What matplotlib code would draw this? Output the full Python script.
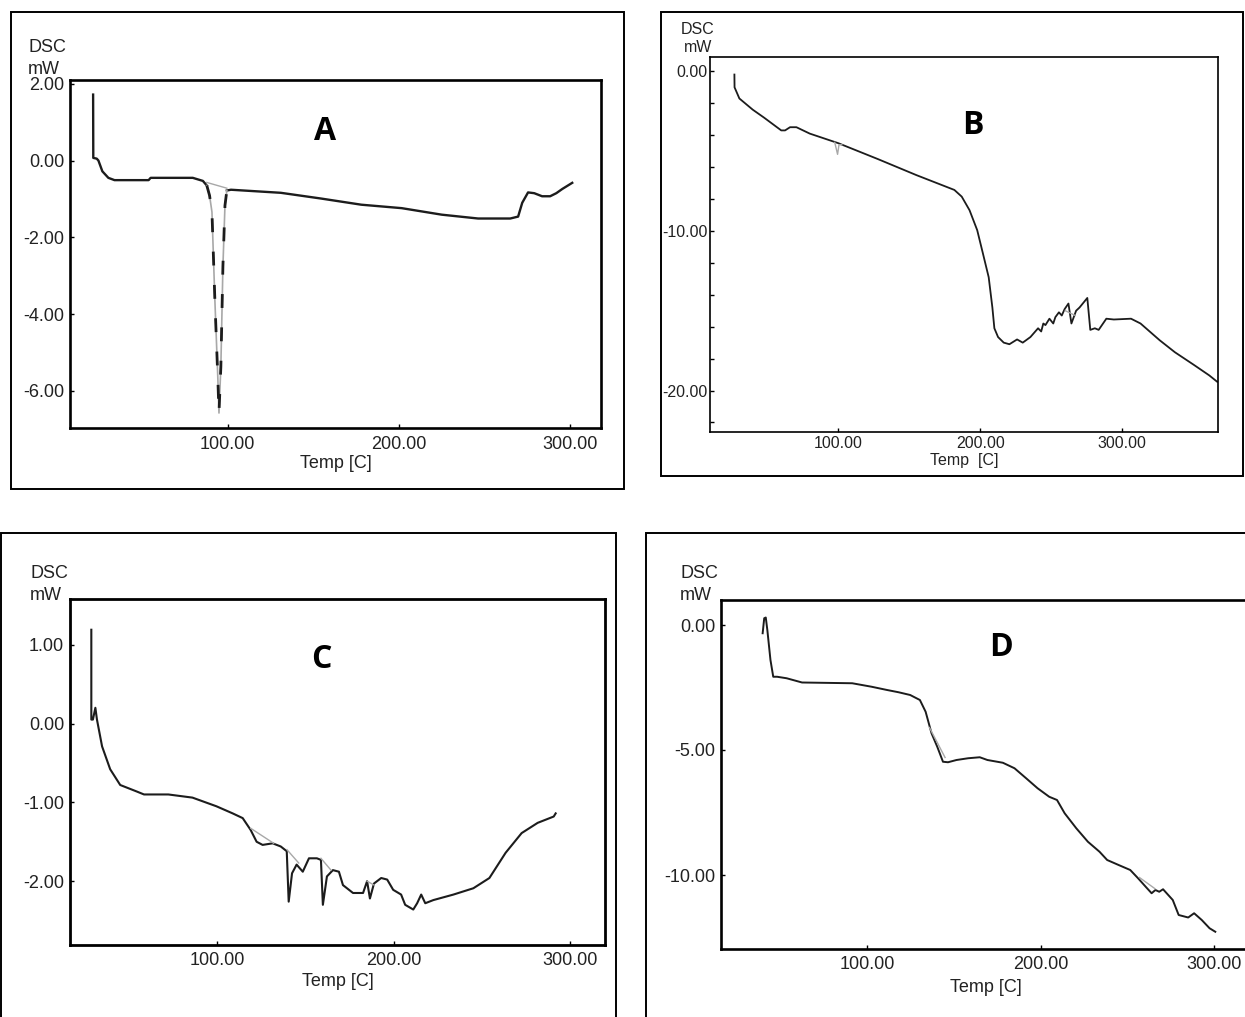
import matplotlib
matplotlib.use("Agg")
import matplotlib.pyplot as plt
from matplotlib.patches import Rectangle
from matplotlib.ticker import FormatStrFormatter, MultipleLocator
import numpy as np


W, H = 1245, 1017

# ---- panel A ----
a_temp = [21.4, 21.5, 23.5, 24.5, 26.8, 30.3, 33.9, 53.8, 55.0, 79.6, 85.5,
          87.8, 89.4, 90.8, 92.5, 94.2, 94.9, 96.0, 97.2, 98.4, 99.5,
          101.9, 131.0, 154.6, 178.0, 201.6, 225.0, 246.2, 265.0, 269.6,
          272.0, 275.4, 279.0, 283.6, 288.3, 291.9, 295.4, 301.2]
a_dsc = [1.72, 0.07, 0.05, 0.0, -0.28, -0.45, -0.51, -0.51, -0.45, -0.45, -0.53,
         -0.65, -0.91, -1.34, -3.63, -5.63, -6.58, -5.37, -2.76, -1.17, -0.78,
         -0.76, -0.84, -0.99, -1.15, -1.24, -1.41, -1.51, -1.51, -1.46,
         -1.10, -0.83, -0.85, -0.93, -0.93, -0.85, -0.74, -0.58]
a_peak = (87.8, 99.5)
a_base_temp = [87.8, 99.5]
a_base_dsc = [-0.57, -0.72]

# ---- panel B ----
b_temp = [26.8, 26.9, 30.3, 39.7, 47.7, 59.8, 62.5, 66.0, 70.5, 79.9, 100.0,
          128.0, 155.0, 181.8, 187.0, 192.5, 197.9, 201.9, 206.0, 208.6, 210.0,
          212.6, 216.6, 220.6, 226.0, 230.0, 235.4, 240.8, 243.0, 244.5, 246.0,
          248.8, 251.5, 253.0, 255.5, 257.5, 259.5, 262.2, 264.3, 267.6, 270.0,
          275.5, 277.6, 280.8, 283.5, 288.9, 294.2, 306.3, 313.0, 326.5, 337.2,
          350.7, 361.4, 367.0]
b_dsc = [-0.2, -1.0, -1.7, -2.4, -2.9, -3.7, -3.7, -3.5, -3.5, -3.9, -4.5,
         -5.5, -6.5, -7.43, -7.85, -8.7, -9.95, -11.4, -12.9, -14.8, -16.1,
         -16.65, -17.0, -17.1, -16.8, -17.0, -16.65, -16.1, -16.3, -15.8, -15.9,
         -15.5, -15.8, -15.4, -15.1, -15.3, -14.9, -14.55, -15.8, -15.0, -14.8,
         -14.2, -16.2, -16.1, -16.2, -15.5, -15.55, -15.5, -15.8, -16.85, -17.6,
         -18.4, -19.05, -19.45]
b_notch_temp = [97.5, 99.5, 100.5, 102.5]
b_notch_dsc = [-4.45, -5.2, -4.6, -4.6]
b_base_temp = [260.0, 267.0]
b_base_dsc = [-15.0, -15.3]

# ---- panel C ----
c_temp = [28.5, 28.5, 29.4, 30.8, 31.7, 34.6, 39.2, 44.9, 54.0, 58.4, 72.2,
          85.9, 99.5, 108.7, 114.4, 118.9, 122.3, 125.7, 131.4, 136.0, 139.4,
          140.5, 142.4, 145.0, 148.5, 152.0, 156.5, 158.8, 159.9, 162.2, 165.6,
          169.0, 171.3, 177.0, 182.7, 185.0, 186.6, 188.9, 193.0, 196.4, 199.8,
          204.3, 206.6, 211.2, 213.4, 215.7, 218.0, 222.6, 234.0, 245.3, 254.4,
          263.6, 272.7, 281.8, 290.9, 292.0]
c_dsc = [1.19, 0.05, 0.05, 0.2, 0.05, -0.29, -0.58, -0.78, -0.86, -0.9, -0.9,
         -0.94, -1.05, -1.14, -1.2, -1.35, -1.5, -1.54, -1.52, -1.56, -1.62,
         -2.26, -1.9, -1.79, -1.88, -1.71, -1.71, -1.73, -2.3, -1.94, -1.86,
         -1.88, -2.05, -2.15, -2.15, -2.0, -2.22, -2.03, -1.96, -1.98, -2.11,
         -2.17, -2.3, -2.36, -2.28, -2.17, -2.28, -2.24, -2.17, -2.09, -1.96,
         -1.64, -1.39, -1.26, -1.18, -1.14]
c_base = [
    ([119.0, 132.0], [-1.33, -1.52]),
    ([139.5, 146.2], [-1.60, -1.77]),
    ([158.8, 164.5], [-1.71, -1.86]),
    ([185.0, 189.0], [-2.0, -2.05]),
]

# ---- panel D ----
d_temp = [39.9, 40.8, 41.7, 42.6, 44.4, 46.0, 48.2, 53.7, 62.6, 91.5, 102.7,
          111.6, 118.2, 124.9, 130.5, 133.8, 137.2, 140.5, 142.7, 143.8, 146.7,
          151.6, 158.3, 165.0, 169.4, 178.3, 185.0, 191.7, 198.3, 205.0, 209.5,
          213.9, 220.6, 227.3, 234.0, 238.4, 245.0, 251.7, 256.2, 260.6, 264.0,
          266.2, 268.4, 270.6, 276.2, 279.6, 285.1, 288.5, 292.9, 297.4, 300.7]
d_dsc = [-0.33, 0.27, 0.3, -0.2, -1.4, -2.07, -2.07, -2.13, -2.3, -2.33, -2.47,
         -2.6, -2.69, -2.8, -3.0, -3.47, -4.33, -4.87, -5.27, -5.47, -5.49,
         -5.4, -5.33, -5.29, -5.4, -5.51, -5.73, -6.13, -6.53, -6.87, -7.0,
         -7.53, -8.13, -8.67, -9.07, -9.4, -9.6, -9.8, -10.13, -10.47, -10.73,
         -10.6, -10.67, -10.57, -11.0, -11.6, -11.7, -11.53, -11.8, -12.13, -12.27]
d_base = [
    ([136.0, 145.0], [-4.1, -5.3]),
    ([257.0, 266.0], [-10.1, -10.55]),
]

x_ticks = [100, 200, 300]
a_yticks = [2, 0, -2, -4, -6]
b_yticks = [0, -10, -20]
c_yticks = [1, 0, -1, -2]
d_yticks = [0, -5, -10]

LINE = "#1c1c1c"
GRAY = "#a8a8a8"
SANS = ["Liberation Sans", "DejaVu Sans"]
NARROW = ["Liberation Sans Narrow", "Liberation Sans", "DejaVu Sans"]
BOLD = ["Open Sans", "DejaVu Sans"]


def fx(px):
    return px / W


def fy(py):
    return 1 - py / H


def px_axes(fig, left, top, right, bottom):
    return fig.add_axes([fx(left), fy(bottom), (right - left) / W, (bottom - top) / H])


def frame(fig, left, top, right, bottom, lw=1.4):
    fig.patches.append(Rectangle((fx(left), fy(bottom)), (right - left) / W,
                                 (bottom - top) / H, transform=fig.transFigure,
                                 fill=False, ec="black", lw=lw))


def style(ax, xlim, ylim, yticks, family, size, spine_lw, xpad, ypad, labelpad, xlabel):
    ax.set_xlim(*xlim)
    ax.set_ylim(*ylim)
    ax.set_xticks(x_ticks)
    ax.set_yticks(yticks)
    ax.xaxis.set_major_formatter(FormatStrFormatter("%.2f"))
    ax.yaxis.set_major_formatter(FormatStrFormatter("%.2f"))
    for s in ax.spines.values():
        s.set_linewidth(spine_lw)
    ax.tick_params(axis="both", which="both", direction="in", length=3, width=1)
    ax.tick_params(axis="x", pad=xpad)
    ax.tick_params(axis="y", pad=ypad)
    for lab in ax.get_xticklabels() + ax.get_yticklabels():
        lab.set_family(family)
        lab.set_fontsize(size)
        lab.set_color("#222222")
    ax.set_xlabel(xlabel, family=family, fontsize=size, color="#222222", labelpad=labelpad)


def unit_label(fig, x, y1, y2, family, size, ha="left"):
    fig.text(fx(x), fy(y1), "DSC", family=family, fontsize=size, color="#222222",
             ha=ha, va="center")
    fig.text(fx(x), fy(y2), "mW", family=family, fontsize=size, color="#222222",
             ha=ha, va="center")


def panel_letter(fig, x, y, letter):
    fig.text(fx(x), fy(y), letter, family=BOLD, fontweight="bold", fontsize=23,
             ha="center", va="center")


fig = plt.figure(figsize=(W / 100, H / 100), dpi=100)

frame(fig, 11, 12, 624, 489)
frame(fig, 661, 12, 1243, 476)
frame(fig, 1, 533, 616, 1030)
frame(fig, 646, 533, 1260, 1030)

# A
ax = px_axes(fig, 70, 80, 601, 428)
t = np.array(a_temp)
y = np.array(a_dsc)
inside = (t > a_peak[0]) & (t < a_peak[1])
pre = t <= a_peak[0]
post = t >= a_peak[1]
ax.plot(t[pre], y[pre], color=LINE, lw=1.7)
ax.plot(t[post], y[post], color=LINE, lw=1.7)
peak = (t >= a_peak[0]) & (t <= a_peak[1])
ax.plot(t[peak], y[peak], color=GRAY, lw=1.2)
ax.plot(t[peak], y[peak], color=LINE, lw=2.0, dashes=(5, 7))
ax.plot(a_base_temp, a_base_dsc, color=GRAY, lw=1.0)
style(ax, (7.9, 318), (-6.97, 2.1), a_yticks, SANS, 13, 1.9, 5.5, 4.3, 2, "Temp [C]")
unit_label(fig, 28, 47, 69, SANS, 13)
panel_letter(fig, 325, 132, "A")

# B
ax = px_axes(fig, 710, 57, 1218, 432)
ax.plot(b_temp, b_dsc, color=LINE, lw=1.3)
ax.plot(b_notch_temp, b_notch_dsc, color=GRAY, lw=1.0)
ax.plot(b_base_temp, b_base_dsc, color=GRAY, lw=1.0)
style(ax, (9.6, 367.6), (-22.6, 0.9), b_yticks, NARROW, 11.5, 1.2, 3, 2, 1, "Temp  [C]")
ax.yaxis.set_minor_locator(MultipleLocator(2))
unit_label(fig, 698, 30, 48, NARROW, 11.5, ha="center")
panel_letter(fig, 973, 125, "B")

# C
ax = px_axes(fig, 70, 599, 605, 945)
ax.plot(c_temp, c_dsc, color=LINE, lw=1.5)
for bt, bd in c_base:
    ax.plot(bt, bd, color=GRAY, lw=1.0)
style(ax, (16.4, 320), (-2.81, 1.58), c_yticks, SANS, 13, 2.0, 5, 4.3, 3, "Temp [C]")
unit_label(fig, 30, 573, 595, SANS, 13)
panel_letter(fig, 321, 659, "C")

# D
ax = px_axes(fig, 721, 600, 1250, 949)
ax.plot(d_temp, d_dsc, color=LINE, lw=1.4)
for bt, bd in d_base:
    ax.plot(bt, bd, color=GRAY, lw=1.0)
style(ax, (15.9, 320.7), (-12.96, 1.0), d_yticks, SANS, 13, 1.9, 5, 4.3, 4, "Temp [C]")
unit_label(fig, 680, 573, 596, SANS, 13)
panel_letter(fig, 1001, 648, "D")

fig.savefig("out.png", dpi=100)
